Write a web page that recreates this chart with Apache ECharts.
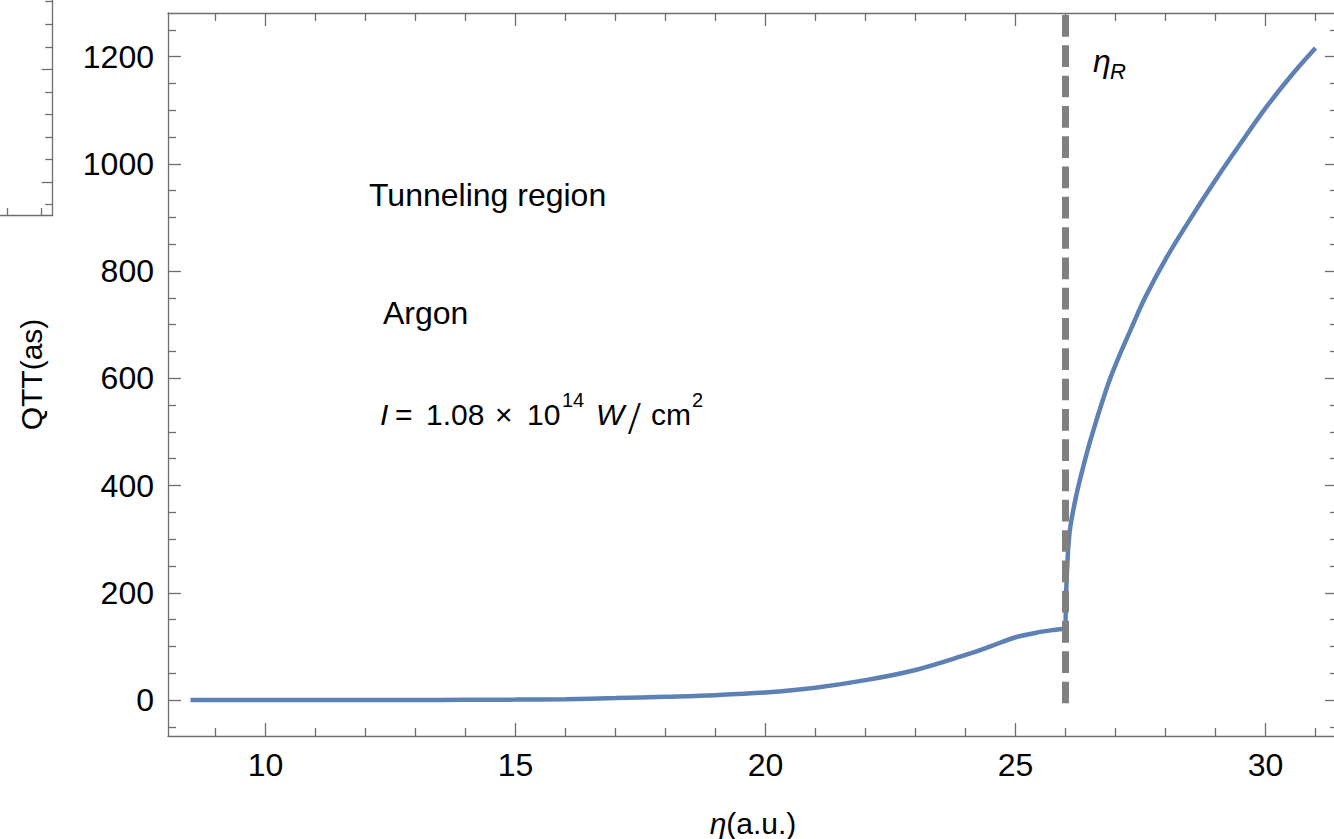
<!DOCTYPE html>
<html>
<head>
<meta charset="utf-8">
<script src="https://cdn.jsdelivr.net/npm/echarts@6/dist/echarts.min.js"></script>
<style>html,body{margin:0;padding:0;background:#fff;}#c{width:1334px;height:839px;}</style>
</head>
<body>
<div id="c"></div>
<script>
// ---- data ----
const lowerEta = [8.5, 10, 11, 12, 13, 14, 15, 16, 17, 18, 19, 20, 21, 22, 23, 24, 24.5, 25, 25.5, 25.8, 26.0];
const lowerQTT = [0, 0, 0, 0, 0.1, 0.3, 0.7, 1.5, 3.5, 6, 9, 14, 23, 37, 56, 84, 100, 117, 127, 131, 133];
const upperEta = [26.0, 26.01, 26.03, 26.06, 26.1, 26.2, 26.3, 26.5, 26.8, 27.0, 27.3, 27.6, 28.0, 28.5, 29.0, 29.5, 30.0, 30.5, 31.0];
const upperQTT = [133, 190, 240, 290, 325, 375, 415, 485, 575, 625, 690, 752, 822, 898, 970, 1038, 1104, 1163, 1216];
const etaR = 26;
const etaRLineRange = [1277.7, -6.2];

// ---- axis ticks ----
const xMajorTicks = [10, 15, 20, 25, 30];
const xMinorTicks = [9, 11, 12, 13, 14, 16, 17, 18, 19, 21, 22, 23, 24, 26, 27, 28, 29, 31];
const yMajorTicks = [0, 200, 400, 600, 800, 1000, 1200];
const yMinorTicks = [-50, 50, 100, 150, 250, 300, 350, 450, 500, 550, 650, 700, 750, 850, 900, 950, 1050, 1100, 1150, 1250];
const xRange = [8.05, 31.45];
const yRange = [-67.2, 1281.5];

// fragment of a neighbouring frame (top-left corner of the picture)
const fragXTicks = [607.3, 641.7];
const fragYMajor = [33, 145.7];
const fragYMinor = [10.6, 55.6, 78, 100.5, 123, 168, 190.7, 213.3];

const FONT = '"Liberation Sans", Arial, Helvetica, sans-serif';
const AX = '#6e6e6e';

function zip(a, b) { return a.map((v, i) => [v, b[i]]); }
const plain = v => String(v);

function xAx(pos, ticks, len, withLabel, showLine) {
  return {
    type: 'value', gridIndex: 0, position: pos, min: xRange[0], max: xRange[1],
    axisLine: { show: showLine, onZero: false, lineStyle: { color: AX, width: 1.3 } },
    axisTick: { show: true, inside: true, length: len, customValues: ticks, lineStyle: { color: AX, width: 1.3 } },
    axisLabel: withLabel ? { show: true, customValues: ticks, formatter: plain, margin: 13, color: '#000', fontSize: 32, fontFamily: FONT } : { show: false },
    splitLine: { show: false },
    name: withLabel ? '{i|η}(a.u.)' : '',
    nameLocation: 'middle', nameGap: 72,
    nameTextStyle: { fontSize: 30, fontFamily: FONT, color: '#000',
      rich: { i: { fontStyle: 'italic', fontSize: 30, fontFamily: FONT, color: '#000' } } }
  };
}
function yAx(pos, ticks, len, withLabel, showLine) {
  return {
    type: 'value', gridIndex: 0, position: pos, min: yRange[0], max: yRange[1],
    axisLine: { show: showLine, onZero: false, lineStyle: { color: AX, width: 1.3 } },
    axisTick: { show: true, inside: true, length: len, customValues: ticks, lineStyle: { color: AX, width: 1.3 } },
    axisLabel: withLabel ? { show: true, customValues: ticks, formatter: plain, margin: 14, color: '#000', fontSize: 32, fontFamily: FONT } : { show: false },
    splitLine: { show: false },
    name: withLabel ? 'QTT(as)' : '',
    nameLocation: 'middle', nameGap: 122,
    nameTextStyle: { fontSize: 30, fontFamily: FONT, color: '#000' }
  };
}

function txt(x, y, s, size, italic, family) {
  return { type: 'text', x: x, y: y, z: 10,
    style: { text: s, font: (italic ? 'italic ' : '') + size + 'px ' + (family || FONT), fill: '#000', verticalAlign: 'middle', align: 'left' } };
}

const chart = echarts.init(document.getElementById('c'), null, { renderer: 'svg', width: 1334, height: 839 });

const option = {
  animation: false,
  backgroundColor: '#fff',
  grid: [
    { left: 168, right: -4, top: 13, bottom: 103, containLabel: false, outerBoundsMode: 'none' },
    { left: -600, right: 1281.3, top: -600, bottom: 624, containLabel: false, outerBoundsMode: 'none' }
  ],
  xAxis: [
    xAx('bottom', xMajorTicks, 13, true, true),
    xAx('bottom', xMinorTicks, 8, false, false),
    xAx('top', xMajorTicks, 13, false, true),
    xAx('top', xMinorTicks, 8, false, false),
    { type: 'value', gridIndex: 1, position: 'bottom', min: 0, max: 652.7,
      axisLine: { show: true, onZero: false, lineStyle: { color: AX, width: 1.3 } },
      axisTick: { show: true, inside: true, length: 7, customValues: fragXTicks, lineStyle: { color: AX, width: 1.3 } },
      axisLabel: { show: false }, splitLine: { show: false } }
  ],
  yAxis: [
    yAx('left', yMajorTicks, 13, true, true),
    yAx('left', yMinorTicks, 8, false, false),
    yAx('right', yMajorTicks, 13, false, true),
    yAx('right', yMinorTicks, 8, false, false),
    { type: 'value', gridIndex: 1, position: 'right', min: 0, max: 815,
      axisLine: { show: true, onZero: false, lineStyle: { color: AX, width: 1.3 } },
      axisTick: { show: true, inside: true, length: 11, customValues: fragYMajor, lineStyle: { color: AX, width: 1.3 } },
      axisLabel: { show: false }, splitLine: { show: false } },
    { type: 'value', gridIndex: 1, position: 'right', min: 0, max: 815,
      axisLine: { show: false, onZero: false },
      axisTick: { show: true, inside: true, length: 7.5, customValues: fragYMinor, lineStyle: { color: AX, width: 1.3 } },
      axisLabel: { show: false }, splitLine: { show: false } }
  ],
  series: [
    { type: 'line', xAxisIndex: 0, yAxisIndex: 0, data: zip(lowerEta, lowerQTT),
      showSymbol: false, smooth: 0.35,
      lineStyle: { color: '#5E81B5', width: 4.5 } },
    { type: 'line', xAxisIndex: 0, yAxisIndex: 0, data: zip(upperEta, upperQTT),
      showSymbol: false, smooth: 0.35,
      lineStyle: { color: '#5E81B5', width: 4.5 } },
    { type: 'line', xAxisIndex: 0, yAxisIndex: 0, data: [[etaR, etaRLineRange[0]], [etaR, etaRLineRange[1]]],
      showSymbol: false, lineStyle: { color: '#808080', width: 7, type: [21.7, 8.6], cap: 'butt' } }
  ],
  graphic: [
    txt(369, 195, 'Tunneling region', 32, false),
    txt(383, 313, 'Argon', 32, false),
    // I = 1.08 × 10^14 W / cm^2
    txt(380, 414.6, 'I', 30, true),
    txt(395, 414.6, '=', 30, false),
    txt(426, 414.6, '1.08', 30, false),
    txt(495, 414.6, '×', 30, false),
    txt(527, 414.6, '10', 30, false),
    txt(562, 400, '14', 20, false),
    txt(596, 414.6, 'W', 30, true),
    txt(628, 418, '/', 46, false, '"Liberation Serif", serif'),
    txt(651, 414.6, 'cm', 30, false),
    txt(692, 400, '2', 20, false),
    // eta_R
    txt(1093, 61, 'η', 32, true),
    txt(1110, 71.4, 'R', 22, true)
  ]
};
chart.setOption(option);
</script>
</body>
</html>
